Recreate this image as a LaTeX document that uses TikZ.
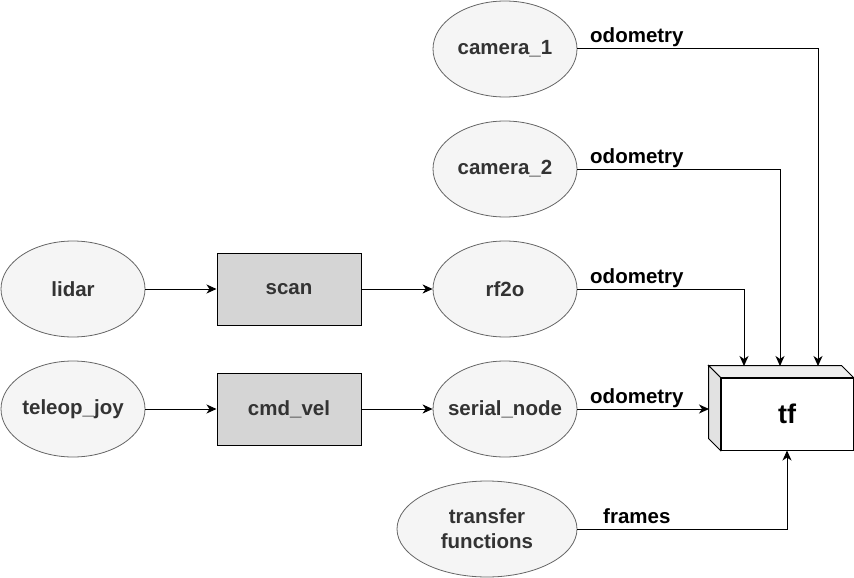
\documentclass[tikz,border=0pt]{standalone}
\usepackage{fontspec}
\setmainfont{Liberation Sans}
\usetikzlibrary{arrows.meta, positioning, calc, shapes.geometric}
\definecolor{rosFill}{HTML}{F5F5F5}
\definecolor{rosLine}{HTML}{666666}
\definecolor{rosText}{HTML}{333333}
\definecolor{rosTopic}{HTML}{D5D5D5}
\definecolor{rosTop}{HTML}{EEEEEE}
\definecolor{rosSide}{HTML}{E2E2E2}

\begin{document}
\begin{tikzpicture}[x=1pt,y=-1pt,
  rosnode/.style={ellipse,draw=rosLine,fill=rosFill,line width=0.8pt,minimum width=144pt,minimum height=96pt,inner sep=0pt,
    font=\fontsize{20.5}{25}\selectfont\bfseries,text=rosText,align=center},
  topic/.style={rectangle,draw=black,fill=rosTopic,line width=1pt,minimum width=144pt,minimum height=72pt,inner sep=0pt,
    font=\fontsize{20.5}{25}\selectfont\bfseries,text=rosText},
  flow/.style={draw=black,line width=1pt,-{Stealth[length=10pt,width=9pt,inset=3pt]}},
  msg/.style={font=\fontsize{20.5}{25}\selectfont\bfseries,anchor=base west,inner sep=0pt}]
\useasboundingbox (0,0) rectangle (854,578);

% ros nodes
\node[rosnode] (cam1) at (505,49) {camera\_1};
\node[rosnode] (cam2) at (505,169) {camera\_2};
\node[rosnode] (lidar) at (73,289) {lidar};
\node[rosnode] (rf2o) at (505,289) {rf2o};
\node[rosnode] (joy) at (73,409) {\makebox[0pt]{teleop\_joy}};
\node[rosnode] (serial) at (505,409) {\makebox[0pt]{serial\_node}};
\node[rosnode,minimum width=180pt] (tfun) at (487,529) {transfer\\functions};

% topics
\node[topic] (scan) at (289,289) {scan};
\node[topic] (cmdvel) at (289,409) {cmd\_vel};

% tf box
\node[draw=black,fill=white,line width=1pt,minimum width=132pt,minimum height=72pt,inner sep=0pt,
  font=\fontsize{27}{30}\selectfont\bfseries] (tf) at (787,414) {tf};
\draw[fill=rosTop,line width=1pt] (tf.north west) -- ++(-12,-12) -- ($(tf.north east)+(-12,-12)$) -- (tf.north east) -- cycle;
\draw[fill=rosSide,line width=1pt] (tf.north west) -- ++(-12,-12) -- ($(tf.south west)+(-12,-12)$) -- (tf.south west) -- cycle;
\coordinate (tfin1) at (818,366);
\coordinate (tfin2) at (780,366);
\coordinate (tfin3) at (744,366);
\coordinate (tfleft) at (709,409);

% connectors
\draw[flow] (lidar) -- (scan);
\draw[flow] (scan) -- (rf2o);
\draw[flow] (joy) -- (cmdvel);
\draw[flow] (cmdvel) -- (serial);
\foreach \src/\dst in {cam1/tfin1, cam2/tfin2, rf2o/tfin3}
  \draw[flow] (\src.east) -| (\dst);
\draw[flow] (serial) -- (tfleft);
\draw[flow] (tfun.east) -| (tf.south);

% labels
\foreach \y in {43,163,283,403}
  \node[msg] at (590,\y) {odometry};
\node[msg] at (603,523) {frames};
\end{tikzpicture}
\end{document}
